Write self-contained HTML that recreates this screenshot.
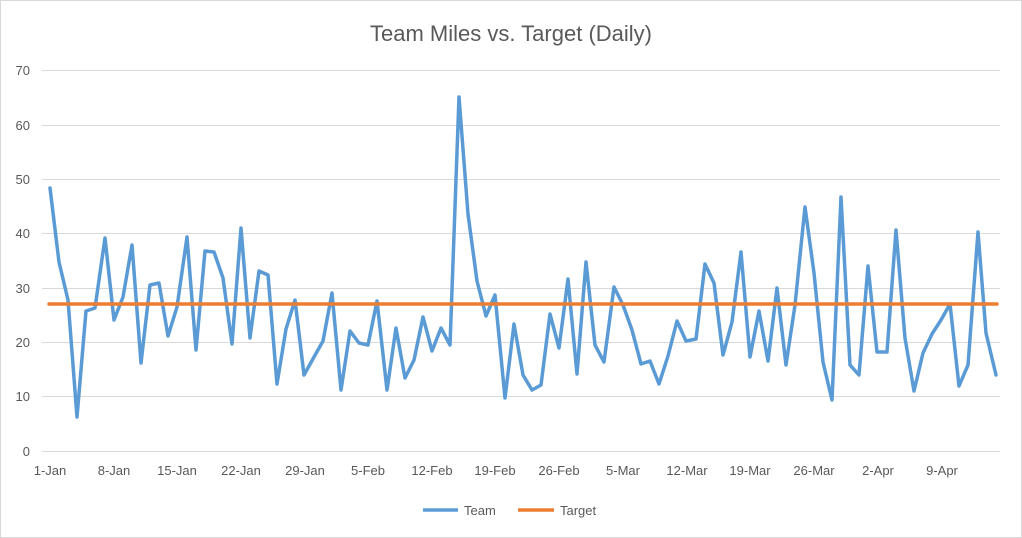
<!DOCTYPE html>
<html><head><meta charset="utf-8"><style>
html,body{margin:0;padding:0;background:#fff;}
svg{display:block;font-family:"Liberation Sans",sans-serif;}
</style></head><body>
<svg width="1022" height="538" viewBox="0 0 1022 538">
<rect x="0.5" y="0.5" width="1021" height="537" fill="#fff" stroke="#d9d9d9"/>
<text x="511" y="41" text-anchor="middle" font-size="22" fill="#595959">Team Miles vs. Target (Daily)</text>
<g stroke="#d9d9d9" stroke-width="1">
<line x1="42" x2="1000" y1="70.5" y2="70.5"/>
<line x1="42" x2="1000" y1="125.5" y2="125.5"/>
<line x1="42" x2="1000" y1="179.5" y2="179.5"/>
<line x1="42" x2="1000" y1="233.5" y2="233.5"/>
<line x1="42" x2="1000" y1="288.5" y2="288.5"/>
<line x1="42" x2="1000" y1="342.5" y2="342.5"/>
<line x1="42" x2="1000" y1="396.5" y2="396.5"/>
<line x1="42" x2="1000" y1="451.5" y2="451.5"/>
</g>
<g font-size="13" fill="#595959" text-anchor="end">
<text x="30" y="75">70</text><text x="30" y="130">60</text><text x="30" y="184">50</text>
<text x="30" y="238">40</text><text x="30" y="293">30</text><text x="30" y="347">20</text>
<text x="30" y="401">10</text><text x="30" y="456">0</text>
</g>
<g font-size="13" fill="#595959" text-anchor="middle">
<text x="50" y="475">1-Jan</text><text x="114" y="475">8-Jan</text><text x="177" y="475">15-Jan</text>
<text x="241" y="475">22-Jan</text><text x="305" y="475">29-Jan</text><text x="368" y="475">5-Feb</text>
<text x="432" y="475">12-Feb</text><text x="495" y="475">19-Feb</text><text x="559" y="475">26-Feb</text>
<text x="623" y="475">5-Mar</text><text x="687" y="475">12-Mar</text><text x="750" y="475">19-Mar</text>
<text x="814" y="475">26-Mar</text><text x="878" y="475">2-Apr</text><text x="942" y="475">9-Apr</text>
</g>
<polyline fill="none" stroke="#5b9bd5" stroke-width="3.5" stroke-linejoin="round" stroke-linecap="round" points="
50,188 59,262 68,300 77,417 86,311 95,308 105,238 114,320 123,297 132,245 141,363 150,285 159,283 168,336 177,307 187,237 196,350 205,251 214,252 223,278 232,344 241,228 250,338 259,271 268,275 277,384 286,329 295,300 304,375 314,357 323,341 332,293 341,390 350,331 359,343 368,345 377,301 387,390 396,328 405,378 414,360 423,317 432,351 441,328 450,345 459,97 468,214 477,281 486,316 495,295 505,398 514,324 523,375 532,390 541,385 550,314 559,348 568,279 577,374 586,262 595,345 604,362 614,287 623,305 632,330 641,364 650,361 659,384 668,356 677,321 686,341 696,339 705,264 714,283 723,355 732,322 741,252 750,357 759,311 768,361 777,288 786,365 795,305 805,207 814,273 823,362 832,400 841,197 850,365 859,375 868,266 877,352 887,352 896,230 905,338 914,391 923,353 932,334 941,320 950,304 959,386 968,365 978,232 986,333 996,375"/>
<line x1="49" x2="997" y1="304" y2="304" stroke="#ed7d31" stroke-width="3.5" stroke-linecap="round"/>
<line x1="423" x2="458" y1="510" y2="510" stroke="#5b9bd5" stroke-width="3.5"/>
<text x="464" y="515" font-size="13" fill="#595959">Team</text>
<line x1="518" x2="554" y1="510" y2="510" stroke="#ed7d31" stroke-width="3.5"/>
<text x="560" y="515" font-size="13" fill="#595959">Target</text>
</svg>
</body></html>
